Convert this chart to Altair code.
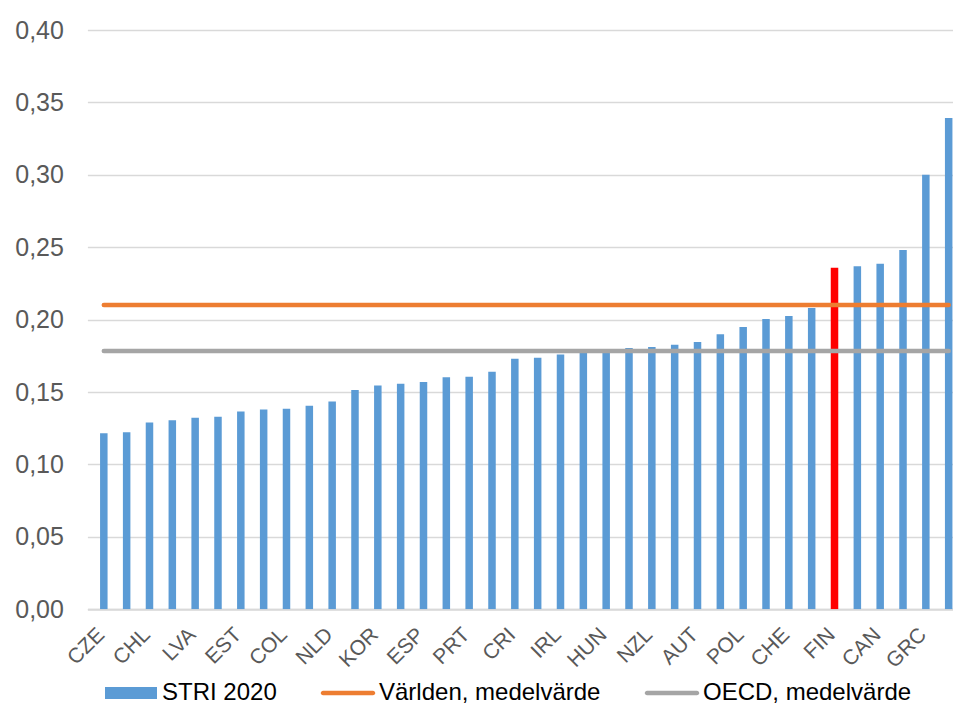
import altair as alt
import pandas as pd

# Country labels as shown on the axis (every other bar is unlabeled in the reference)
countries = ["CZE", "", "CHL", "", "LVA", "", "EST", "", "COL", "", "NLD", "",
             "KOR", "", "ESP", "", "PRT", "", "CRI", "", "IRL", "", "HUN", "",
             "NZL", "", "AUT", "", "POL", "", "CHE", "", "FIN", "", "CAN", "",
             "GRC", ""]
values = [0.1216, 0.1223, 0.1290, 0.1306, 0.1322, 0.1329, 0.1366, 0.1380,
          0.1384, 0.1405, 0.1435, 0.1515, 0.1545, 0.1557, 0.1570, 0.1603,
          0.1605, 0.1640, 0.1730, 0.1737, 0.1760, 0.1772, 0.1780, 0.1804,
          0.1812, 0.1826, 0.1845, 0.1900, 0.1949, 0.2004, 0.2025, 0.2080,
          0.2359, 0.2368, 0.2386, 0.2481, 0.3001, 0.3393]
highlight = "FIN"
series_names = ["STRI 2020", "Världen, medelvärde", "OECD, medelvärde"]
series_colors = ["#5B9BD5", "#ED7D31", "#A5A5A5"]
highlight_color = "#FF0000"
mean_values = [0.2101, 0.1784]
y_ticks = [0.0, 0.05, 0.10, 0.15, 0.20, 0.25, 0.30, 0.35, 0.40]

bars = pd.DataFrame({
    "idx": list(range(len(values))),
    "country": countries,
    "value": values,
})
means = pd.DataFrame({
    "series": series_names[1:],
    "value": mean_values,
    "x0": 0,
    "x1": len(values) - 1,
})
legend_df = pd.DataFrame({"series": series_names, "idx": 0, "value": 0.0})

label_array = "[" + ",".join("'" + c + "'" for c in countries) + "]"

# the reference is cropped on the right: the last bar is only partly visible
xscale = alt.Scale(domain=[-0.5, 36.97], nice=False, zero=False)
yscale = alt.Scale(domain=[0, 0.40], nice=False)

RECT = "M-1,-0.23L1,-0.23L1,0.23L-1,0.23Z"
LINE = ("M-0.96,-0.087L0.96,-0.087A0.087,0.087 0 0 1 0.96,0.087"
        "L-0.96,0.087A0.087,0.087 0 0 1 -0.96,-0.087Z")

legend = alt.Legend(
    title=None, orient="none", legendX=17.6, legendY=637,
    direction="horizontal",
    symbolSize=2704, symbolStrokeWidth=0, symbolOpacity=1,
    labelFont="Liberation Sans", labelFontSize=24, labelColor="#000000",
    labelOffset=5, labelLimit=0, columnPadding=43, padding=0,
)

xaxis = alt.Axis(
    values=list(range(0, len(values), 2)),
    labelExpr=label_array + "[datum.value]",
    labelAngle=315, labelAlign="right", labelBaseline="middle",
    labelPadding=22, labelOffset=-3,
    labelFont="Liberation Sans", labelFontSize=21, labelColor="#595959",
    labelOverlap=False, ticks=False, tickSize=0, grid=False,
    domainColor="#D9D9D9", domainWidth=2, title=None,
)
yaxis = alt.Axis(
    values=y_ticks,
    labelExpr="replace(format(datum.value, '.2f'), '.', ',')",
    labelFont="Liberation Sans", labelFontSize=25, labelColor="#595959",
    labelPadding=24, ticks=False, tickSize=0, domain=False,
    gridColor="#D9D9D9", gridWidth=1.5, title=None,
)

bar_layer = alt.Chart(bars).mark_bar(size=7.5, clip=True).encode(
    x=alt.X("idx:Q", scale=xscale, axis=xaxis),
    y=alt.Y("value:Q", scale=yscale, axis=yaxis),
    color=alt.condition(
        f"datum.country == '{highlight}'",
        alt.value(highlight_color),
        alt.value(series_colors[0]),
    ),
)

rule_layers = [
    alt.Chart(means).transform_filter(alt.datum.series == name).mark_rule(
        strokeWidth=4.5, strokeCap="round", clip=True, color=col
    ).encode(
        x=alt.X("x0:Q", scale=xscale),
        x2="x1:Q",
        y=alt.Y("value:Q", scale=yscale),
    )
    for name, col in zip(series_names[1:], series_colors[1:])
]

legend_layer = alt.Chart(legend_df).mark_point(
    filled=True, size=2704, opacity=0, strokeWidth=0
).encode(
    x=alt.X("idx:Q", scale=xscale),
    y=alt.Y("value:Q", scale=yscale),
    color=alt.Color("series:N",
                    scale=alt.Scale(domain=series_names, range=series_colors),
                    legend=legend),
    shape=alt.Shape("series:N",
                    scale=alt.Scale(domain=series_names, range=[RECT, LINE, LINE]),
                    legend=legend),
)

chart = alt.layer(bar_layer, *rule_layers, legend_layer).properties(
    width=865.6, height=579.3,
    autosize=alt.AutoSizeParams(type="none"),
    padding={"left": 79.4, "top": 22, "right": 0, "bottom": 98.7},
    background="white",
).configure_view(stroke=None)

chart.save("out.html", embed_options={"renderer": "svg", "actions": False})
